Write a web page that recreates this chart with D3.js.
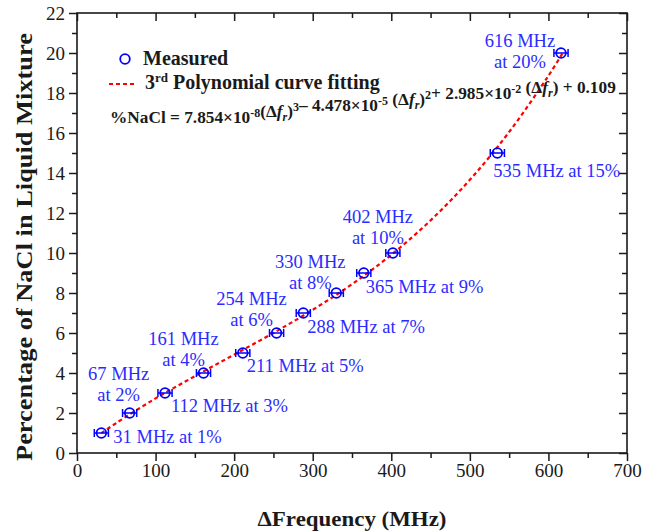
<!DOCTYPE html>
<html>
<head>
<meta charset="utf-8">
<script src="https://cdn.jsdelivr.net/npm/d3@7"></script>
<style>
  body { margin: 0; background: #fff; }
  svg text { font-family: "Liberation Serif", Tinos, "DejaVu Serif", serif; }
</style>
</head>
<body>
<div id="chart"></div>
<script>
// measured points
const freqMHz = [31, 67, 112, 161, 211, 254, 288, 330, 365, 402, 535, 616];
const nacl    = [1, 2, 3, 4, 5, 6, 7, 8, 9, 10, 15, 20];
const errMHz  = 9;

// fitted curve
const fitX = [31, 50, 100, 150, 200, 250, 300, 350, 400, 450, 500, 550, 600, 618];
const fitY = [0.99, 1.50, 2.73, 3.84, 4.92, 6.00, 7.16, 8.44, 9.91, 11.63, 13.66, 16.05, 18.86, 19.99];

const xTicks = [0, 100, 200, 300, 400, 500, 600, 700];
const yTicks = [0, 2, 4, 6, 8, 10, 12, 14, 16, 18, 20, 22];

// annotation text for each point
const labels = [
  ["31 MHz at 1%"], ["67 MHz", "at 2%"], ["112 MHz at 3%"], ["161 MHz", "at 4%"],
  ["211 MHz at 5%"], ["254 MHz", "at 6%"], ["288 MHz at 7%"], ["330 MHz", "at 8%"],
  ["365 MHz at 9%"], ["402 MHz", "at 10%"], ["535 MHz at 15%"], ["616 MHz", "at 20%"]
];
// where each annotation sits relative to its point (px)
const labelPos = [
  {a: "start", dx: 12, dy: 10}, {a: "middle", dx: -11, dy: -33}, {a: "start", dx: 6, dy: 19},
  {a: "middle", dx: -20, dy: -28}, {a: "start", dx: 4, dy: 19}, {a: "middle", dx: -25, dy: -28},
  {a: "start", dx: 4, dy: 20}, {a: "middle", dx: -26, dy: -25}, {a: "start", dx: 2, dy: 20},
  {a: "middle", dx: -15, dy: -30}, {a: "start", dx: -4, dy: 24}, {a: "middle", dx: -41, dy: -6}
];

const W = 658, H = 532;
const mL = 77, mR = 627, mT = 13, mB = 453;
const blue = "#0000ff", textBlue = "#2b2bff", red = "#ff0000", ink = "#1a1a1a";
const serif = '"Liberation Serif", Tinos, "DejaVu Serif", serif';

const svg = d3.select("#chart").append("svg").attr("width", W).attr("height", H)
  .attr("font-family", serif);

const x = d3.scaleLinear().domain([0, 700]).range([mL, mR]);
const y = d3.scaleLinear().domain([0, 22]).range([mB, mT]);

const xMinor = d3.range(50, 700, 100);
const yMinor = d3.range(1, 22, 2);

function styleAxis(g) {
  g.attr("font-family", serif).attr("font-size", 19);
  g.select(".domain").remove();
  g.selectAll("line").attr("stroke", ink).attr("stroke-width", 1.5);
  g.selectAll("text").attr("fill", ink);
}

// bottom (outward ticks)
svg.append("g").attr("transform", `translate(0,${mB})`)
  .call(d3.axisBottom(x).tickValues(xTicks).tickSize(8).tickPadding(3).tickFormat(d3.format("d")))
  .call(styleAxis);
svg.append("g").attr("transform", `translate(0,${mB})`)
  .call(d3.axisBottom(x).tickValues(xMinor).tickSize(5).tickFormat(""))
  .call(styleAxis);
// left (outward)
svg.append("g").attr("transform", `translate(${mL},0)`)
  .call(d3.axisLeft(y).tickValues(yTicks).tickSize(8).tickPadding(4).tickFormat(d3.format("d")))
  .call(styleAxis);
svg.append("g").attr("transform", `translate(${mL},0)`)
  .call(d3.axisLeft(y).tickValues(yMinor).tickSize(5).tickFormat(""))
  .call(styleAxis);
// top & right mirror (inward)
svg.append("g").attr("transform", `translate(0,${mT})`)
  .call(d3.axisTop(x).tickValues(xTicks).tickSize(-8).tickFormat(""))
  .call(styleAxis);
svg.append("g").attr("transform", `translate(0,${mT})`)
  .call(d3.axisTop(x).tickValues(xMinor).tickSize(-5).tickFormat(""))
  .call(styleAxis);
svg.append("g").attr("transform", `translate(${mR},0)`)
  .call(d3.axisRight(y).tickValues(yTicks).tickSize(-8).tickFormat(""))
  .call(styleAxis);
svg.append("g").attr("transform", `translate(${mR},0)`)
  .call(d3.axisRight(y).tickValues(yMinor).tickSize(-5).tickFormat(""))
  .call(styleAxis);

// frame
svg.append("rect").attr("x", mL).attr("y", mT)
  .attr("width", mR - mL).attr("height", mB - mT)
  .attr("fill", "none").attr("stroke", ink).attr("stroke-width", 1.6);

// axis titles
svg.append("text").attr("x", 352).attr("y", 526)
  .attr("text-anchor", "middle").attr("font-weight", "bold").attr("font-size", 22).attr("fill", ink)
  .attr("textLength", 189).attr("lengthAdjust", "spacingAndGlyphs")
  .text("\u0394Frequency (MHz)");
svg.append("text").attr("transform", `translate(32,247) rotate(-90)`)
  .attr("text-anchor", "middle").attr("font-weight", "bold").attr("font-size", 23).attr("fill", ink)
  .attr("textLength", 428).attr("lengthAdjust", "spacingAndGlyphs")
  .text("Percentage of NaCl in Liquid Mixture");

// fit curve
const fit = fitX.map((v, i) => [v, fitY[i]]);
svg.append("path").datum(fit)
  .attr("fill", "none").attr("stroke", red).attr("stroke-width", 2.2)
  .attr("stroke-dasharray", "4,3")
  .attr("d", d3.line().x(d => x(d[0])).y(d => y(d[1])).curve(d3.curveCatmullRom));

// measured points with error bars
const pts = freqMHz.map((f, i) => ({f: f, p: nacl[i], lab: labels[i], pos: labelPos[i]}));
const pg = svg.append("g").selectAll("g").data(pts).enter().append("g");
pg.append("line")
  .attr("x1", d => x(d.f - errMHz)).attr("x2", d => x(d.f + errMHz))
  .attr("y1", d => y(d.p)).attr("y2", d => y(d.p))
  .attr("stroke", blue).attr("stroke-width", 1.5);
pg.append("line")
  .attr("x1", d => x(d.f - errMHz)).attr("x2", d => x(d.f - errMHz))
  .attr("y1", d => y(d.p) - 4).attr("y2", d => y(d.p) + 4)
  .attr("stroke", blue).attr("stroke-width", 1.5);
pg.append("line")
  .attr("x1", d => x(d.f + errMHz)).attr("x2", d => x(d.f + errMHz))
  .attr("y1", d => y(d.p) - 4).attr("y2", d => y(d.p) + 4)
  .attr("stroke", blue).attr("stroke-width", 1.5);
pg.append("circle")
  .attr("cx", d => x(d.f)).attr("cy", d => y(d.p)).attr("r", 4.8)
  .attr("fill", "none").attr("stroke", blue).attr("stroke-width", 1.8);

// annotations
pg.each(function (d) {
  const t = d3.select(this).append("text")
    .attr("text-anchor", d.pos.a).attr("fill", textBlue).attr("font-size", 18.5);
  d.lab.forEach((s, k) => {
    t.append("tspan").attr("x", x(d.f) + d.pos.dx)
      .attr("y", y(d.p) + d.pos.dy + k * 21).text(s);
  });
});

// legend
svg.append("circle").attr("cx", 125).attr("cy", 59).attr("r", 4.8)
  .attr("fill", "none").attr("stroke", blue).attr("stroke-width", 1.8);
svg.append("text").attr("x", 143).attr("y", 65).attr("font-weight", "bold")
  .attr("font-size", 20).attr("fill", ink).text("Measured");
svg.append("line").attr("x1", 109).attr("x2", 134).attr("y1", 84).attr("y2", 84)
  .attr("stroke", red).attr("stroke-width", 2.2).attr("stroke-dasharray", "4,3");
const lt = svg.append("text").attr("x", 145).attr("y", 89).attr("font-weight", "bold")
  .attr("font-size", 20).attr("fill", ink);
lt.append("tspan").text("3");
lt.append("tspan").attr("dy", -7).attr("font-size", 13).text("rd");
lt.append("tspan").attr("dy", 7).text(" Polynomial curve fitting");

// fitted equation
const eq = svg.append("text").attr("x", 110).attr("y", 123).attr("font-weight", "bold")
  .attr("font-size", 17.3).attr("fill", ink);
function sup(s) { eq.append("tspan").attr("dy", -6).attr("font-size", 12).text(s); eq.append("tspan").attr("dy", 6).text(""); }
function df() {
  eq.append("tspan").text("(\u0394");
  eq.append("tspan").attr("font-style", "italic").text("f");
  eq.append("tspan").attr("dy", 4).attr("font-size", 12).attr("font-style", "italic").text("r");
  eq.append("tspan").attr("dy", -4).text(")");
}
eq.append("tspan").text("%NaCl = 7.854\u00d710"); sup("-8"); df(); sup("3");
eq.append("tspan").text("\u2013 4.478\u00d710"); sup("-5"); eq.append("tspan").text(" "); df(); sup("2");
eq.append("tspan").text("+ 2.985\u00d710"); sup("-2"); eq.append("tspan").text(" "); df();
eq.append("tspan").text(" + 0.109");
</script>
</body>
</html>
